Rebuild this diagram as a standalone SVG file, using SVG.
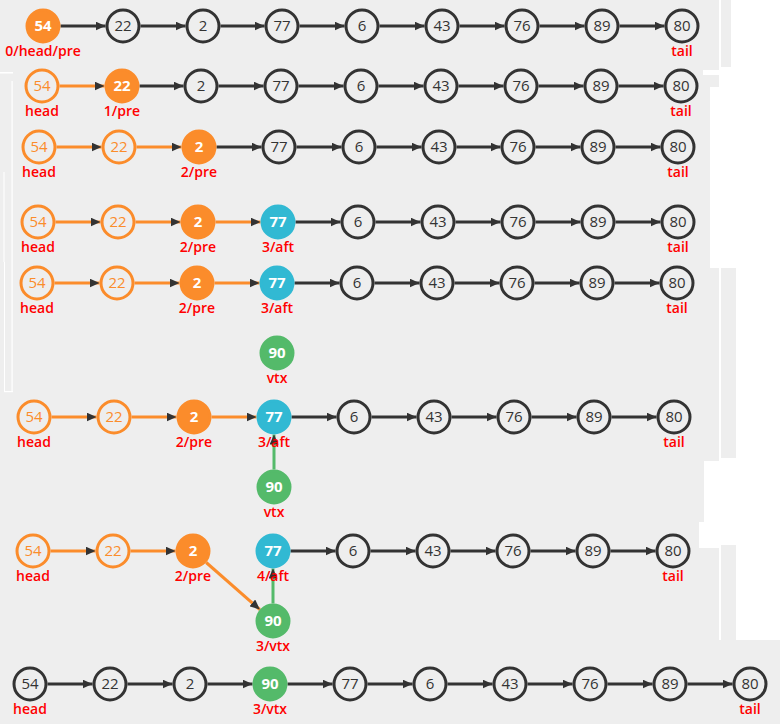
<svg xmlns="http://www.w3.org/2000/svg" width="780" height="724" viewBox="0 0 780 724">
<style>
text{font-family:"Open Sans","DejaVu Sans",sans-serif;text-anchor:middle}
.node circle{stroke-width:3}
.node text{font-size:15px;font-weight:700}
.n circle{fill:#eeeeee;stroke:#333333}
.n text{fill:#333333;font-weight:500}
.o circle{fill:#eeeeee;stroke:#fb8c2b}
.o text{fill:#fb8c2b;font-weight:500}
.f circle{fill:#fb8c2b;stroke:#fb8c2b}
.t circle{fill:#31b9d3;stroke:#31b9d3}
.g circle{fill:#54ba6a;stroke:#54ba6a}
.f text,.t text,.g text{fill:#ffffff}
.node text.lbl{font-size:14px;font-weight:600;fill:#ff0000}
.bg{fill:#eeeeee}
.wl{fill:#ffffff}
#links line{stroke-width:3;marker-end:url(#ah)}
.d{stroke:#333333}
.ol{stroke:#fb8c2b}
.gl{stroke:#54ba6a}
</style>
<defs>
<marker id="ah" markerUnits="userSpaceOnUse" markerWidth="10" markerHeight="9" refX="10" refY="4.5" orient="auto">
<path d="M0,0 L10,4.5 L0,9 z" fill="#333333"/>
</marker>
</defs>
<g id="background">
<rect x="0" y="0" width="780" height="724" fill="#ffffff"/>
<rect class="bg" x="0" y="0" width="719" height="75"/>
<rect class="bg" x="721" y="0" width="10" height="67"/>
<rect class="wl" x="703" y="70" width="18" height="5"/>
<rect class="bg" x="0" y="75" width="719" height="12"/>
<rect class="bg" x="0" y="87" width="710" height="181"/>
<rect class="bg" x="0" y="268" width="719" height="193"/>
<rect class="bg" x="721" y="268" width="15" height="190"/>
<rect class="bg" x="0" y="461" width="704" height="61"/>
<rect class="bg" x="0" y="522" width="699" height="26"/>
<rect class="bg" x="0" y="548" width="719" height="107"/>
<rect class="bg" x="721" y="545" width="15" height="95"/>
<rect class="bg" x="0" y="640" width="780" height="84"/>
<rect class="wl" x="0" y="72" width="13" height="1.5"/>
<rect class="wl" x="11.5" y="81" width="1.2" height="311"/>
<rect class="wl" x="3.5" y="172" width="1" height="90"/>
<rect class="wl" x="4" y="262" width="1" height="130"/>
<rect class="wl" x="4" y="391" width="9" height="1.2"/>
</g>
<g id="links">
<line class="d" x1="60.5" y1="26" x2="105.5" y2="26"/>
<line class="d" x1="140.5" y1="26" x2="185.5" y2="26"/>
<line class="d" x1="220.5" y1="26" x2="264.5" y2="26"/>
<line class="d" x1="299.5" y1="26" x2="344.5" y2="26"/>
<line class="d" x1="379.5" y1="26" x2="424.5" y2="26"/>
<line class="d" x1="459.5" y1="26" x2="504.5" y2="26"/>
<line class="d" x1="539.5" y1="26" x2="584.5" y2="26"/>
<line class="d" x1="619.5" y1="26" x2="664.5" y2="26"/>

<line class="ol" x1="59.5" y1="86" x2="104.5" y2="86"/>
<line class="d" x1="139.5" y1="86" x2="183.5" y2="86"/>
<line class="d" x1="218.5" y1="86" x2="263.5" y2="86"/>
<line class="d" x1="298.5" y1="86" x2="343.5" y2="86"/>
<line class="d" x1="378.5" y1="86" x2="423.5" y2="86"/>
<line class="d" x1="458.5" y1="86" x2="503.5" y2="86"/>
<line class="d" x1="538.5" y1="86" x2="583.5" y2="86"/>
<line class="d" x1="618.5" y1="86" x2="663.5" y2="86"/>

<line class="ol" x1="56.5" y1="147" x2="101.5" y2="147"/>
<line class="ol" x1="136.5" y1="147" x2="181.5" y2="147"/>
<line class="d" x1="216.5" y1="147" x2="261.5" y2="147"/>
<line class="d" x1="296.5" y1="147" x2="341.5" y2="147"/>
<line class="d" x1="376.5" y1="147" x2="421.5" y2="147"/>
<line class="d" x1="456.5" y1="147" x2="500.5" y2="147"/>
<line class="d" x1="535.5" y1="147" x2="580.5" y2="147"/>
<line class="d" x1="615.5" y1="147" x2="660.5" y2="147"/>

<line class="ol" x1="55.5" y1="222" x2="100.5" y2="222"/>
<line class="ol" x1="135.5" y1="222" x2="180.5" y2="222"/>
<line class="ol" x1="215.5" y1="222" x2="260.5" y2="222"/>
<line class="d" x1="295.5" y1="222" x2="340.5" y2="222"/>
<line class="d" x1="375.5" y1="222" x2="420.5" y2="222"/>
<line class="d" x1="455.5" y1="222" x2="500.5" y2="222"/>
<line class="d" x1="535.5" y1="222" x2="580.5" y2="222"/>
<line class="d" x1="615.5" y1="222" x2="660.5" y2="222"/>

<line class="ol" x1="54.5" y1="283" x2="99.5" y2="283"/>
<line class="ol" x1="134.5" y1="283" x2="179.5" y2="283"/>
<line class="ol" x1="214.5" y1="283" x2="259.5" y2="283"/>
<line class="d" x1="294.5" y1="283" x2="339.5" y2="283"/>
<line class="d" x1="374.5" y1="283" x2="419.5" y2="283"/>
<line class="d" x1="454.5" y1="283" x2="499.5" y2="283"/>
<line class="d" x1="534.5" y1="283" x2="579.5" y2="283"/>
<line class="d" x1="614.5" y1="283" x2="659.5" y2="283"/>

<line class="ol" x1="51.5" y1="417" x2="96.5" y2="417"/>
<line class="ol" x1="131.5" y1="417" x2="176.5" y2="417"/>
<line class="ol" x1="211.5" y1="417" x2="256.5" y2="417"/>
<line class="d" x1="291.5" y1="417" x2="336.5" y2="417"/>
<line class="d" x1="371.5" y1="417" x2="416.5" y2="417"/>
<line class="d" x1="451.5" y1="417" x2="496.5" y2="417"/>
<line class="d" x1="531.5" y1="417" x2="576.5" y2="417"/>
<line class="d" x1="611.5" y1="417" x2="656.5" y2="417"/>
<line class="gl" x1="274" y1="469.5" x2="274" y2="434.5"/>

<line class="ol" x1="50.5" y1="551" x2="95.5" y2="551"/>
<line class="ol" x1="130.5" y1="551" x2="175.5" y2="551"/>
<line class="ol" x1="206.2" y1="562.5" x2="259.8" y2="609.5"/>
<line class="d" x1="290.5" y1="551" x2="335.5" y2="551"/>
<line class="d" x1="370.5" y1="551" x2="415.5" y2="551"/>
<line class="d" x1="450.5" y1="551" x2="495.5" y2="551"/>
<line class="d" x1="530.5" y1="551" x2="575.5" y2="551"/>
<line class="d" x1="610.5" y1="551" x2="655.5" y2="551"/>
<line class="gl" x1="273" y1="603.5" x2="273" y2="568.5"/>

<line class="d" x1="47.5" y1="684" x2="92.5" y2="684"/>
<line class="d" x1="127.5" y1="684" x2="172.5" y2="684"/>
<line class="d" x1="207.5" y1="684" x2="252.5" y2="684"/>
<line class="d" x1="287.5" y1="684" x2="332.5" y2="684"/>
<line class="d" x1="367.5" y1="684" x2="412.5" y2="684"/>
<line class="d" x1="447.5" y1="684" x2="492.5" y2="684"/>
<line class="d" x1="527.5" y1="684" x2="572.5" y2="684"/>
<line class="d" x1="607.5" y1="684" x2="652.5" y2="684"/>
<line class="d" x1="687.5" y1="684" x2="732.5" y2="684"/>
</g>
<g id="nodes">
<!-- row 1 -->
<g id="r1n1" class="node f"><circle cx="43" cy="26" r="16"/><text x="43" y="31">54</text><text class="lbl" x="43" y="56">0/head/pre</text></g>
<g id="r1n2" class="node n"><circle cx="123" cy="26" r="16"/><text x="123" y="31">22</text></g>
<g id="r1n3" class="node n"><circle cx="203" cy="26" r="16"/><text x="203" y="31">2</text></g>
<g id="r1n4" class="node n"><circle cx="282" cy="26" r="16"/><text x="282" y="31">77</text></g>
<g id="r1n5" class="node n"><circle cx="362" cy="26" r="16"/><text x="362" y="31">6</text></g>
<g id="r1n6" class="node n"><circle cx="442" cy="26" r="16"/><text x="442" y="31">43</text></g>
<g id="r1n7" class="node n"><circle cx="522" cy="26" r="16"/><text x="522" y="31">76</text></g>
<g id="r1n8" class="node n"><circle cx="602" cy="26" r="16"/><text x="602" y="31">89</text></g>
<g id="r1n9" class="node n"><circle cx="682" cy="26" r="16"/><text x="682" y="31">80</text><text class="lbl" x="682" y="56">tail</text></g>
<!-- row 2 -->
<g id="r2n1" class="node o"><circle cx="42" cy="86" r="16"/><text x="42" y="91">54</text><text class="lbl" x="42" y="116">head</text></g>
<g id="r2n2" class="node f"><circle cx="122" cy="86" r="16"/><text x="122" y="91">22</text><text class="lbl" x="122" y="116">1/pre</text></g>
<g id="r2n3" class="node n"><circle cx="201" cy="86" r="16"/><text x="201" y="91">2</text></g>
<g id="r2n4" class="node n"><circle cx="281" cy="86" r="16"/><text x="281" y="91">77</text></g>
<g id="r2n5" class="node n"><circle cx="361" cy="86" r="16"/><text x="361" y="91">6</text></g>
<g id="r2n6" class="node n"><circle cx="441" cy="86" r="16"/><text x="441" y="91">43</text></g>
<g id="r2n7" class="node n"><circle cx="521" cy="86" r="16"/><text x="521" y="91">76</text></g>
<g id="r2n8" class="node n"><circle cx="601" cy="86" r="16"/><text x="601" y="91">89</text></g>
<g id="r2n9" class="node n"><circle cx="681" cy="86" r="16"/><text x="681" y="91">80</text><text class="lbl" x="681" y="116">tail</text></g>
<!-- row 3 -->
<g id="r3n1" class="node o"><circle cx="39" cy="147" r="16"/><text x="39" y="152">54</text><text class="lbl" x="39" y="177">head</text></g>
<g id="r3n2" class="node o"><circle cx="119" cy="147" r="16"/><text x="119" y="152">22</text></g>
<g id="r3n3" class="node f"><circle cx="199" cy="147" r="16"/><text x="199" y="152">2</text><text class="lbl" x="199" y="177">2/pre</text></g>
<g id="r3n4" class="node n"><circle cx="279" cy="147" r="16"/><text x="279" y="152">77</text></g>
<g id="r3n5" class="node n"><circle cx="359" cy="147" r="16"/><text x="359" y="152">6</text></g>
<g id="r3n6" class="node n"><circle cx="439" cy="147" r="16"/><text x="439" y="152">43</text></g>
<g id="r3n7" class="node n"><circle cx="518" cy="147" r="16"/><text x="518" y="152">76</text></g>
<g id="r3n8" class="node n"><circle cx="598" cy="147" r="16"/><text x="598" y="152">89</text></g>
<g id="r3n9" class="node n"><circle cx="678" cy="147" r="16"/><text x="678" y="152">80</text><text class="lbl" x="678" y="177">tail</text></g>
<!-- row 4 -->
<g id="r4n1" class="node o"><circle cx="38" cy="222" r="16"/><text x="38" y="227">54</text><text class="lbl" x="38" y="252">head</text></g>
<g id="r4n2" class="node o"><circle cx="118" cy="222" r="16"/><text x="118" y="227">22</text></g>
<g id="r4n3" class="node f"><circle cx="198" cy="222" r="16"/><text x="198" y="227">2</text><text class="lbl" x="198" y="252">2/pre</text></g>
<g id="r4n4" class="node t"><circle cx="278" cy="222" r="16"/><text x="278" y="227">77</text><text class="lbl" x="278" y="252">3/aft</text></g>
<g id="r4n5" class="node n"><circle cx="358" cy="222" r="16"/><text x="358" y="227">6</text></g>
<g id="r4n6" class="node n"><circle cx="438" cy="222" r="16"/><text x="438" y="227">43</text></g>
<g id="r4n7" class="node n"><circle cx="518" cy="222" r="16"/><text x="518" y="227">76</text></g>
<g id="r4n8" class="node n"><circle cx="598" cy="222" r="16"/><text x="598" y="227">89</text></g>
<g id="r4n9" class="node n"><circle cx="678" cy="222" r="16"/><text x="678" y="227">80</text><text class="lbl" x="678" y="252">tail</text></g>
<!-- row 5 -->
<g id="r5n1" class="node o"><circle cx="37" cy="283" r="16"/><text x="37" y="288">54</text><text class="lbl" x="37" y="313">head</text></g>
<g id="r5n2" class="node o"><circle cx="117" cy="283" r="16"/><text x="117" y="288">22</text></g>
<g id="r5n3" class="node f"><circle cx="197" cy="283" r="16"/><text x="197" y="288">2</text><text class="lbl" x="197" y="313">2/pre</text></g>
<g id="r5n4" class="node t"><circle cx="277" cy="283" r="16"/><text x="277" y="288">77</text><text class="lbl" x="277" y="313">3/aft</text></g>
<g id="r5n5" class="node n"><circle cx="357" cy="283" r="16"/><text x="357" y="288">6</text></g>
<g id="r5n6" class="node n"><circle cx="437" cy="283" r="16"/><text x="437" y="288">43</text></g>
<g id="r5n7" class="node n"><circle cx="517" cy="283" r="16"/><text x="517" y="288">76</text></g>
<g id="r5n8" class="node n"><circle cx="597" cy="283" r="16"/><text x="597" y="288">89</text></g>
<g id="r5n9" class="node n"><circle cx="677" cy="283" r="16"/><text x="677" y="288">80</text><text class="lbl" x="677" y="313">tail</text></g>
<!-- row 6 -->
<g id="r6vtx" class="node g"><circle cx="277" cy="353" r="16"/><text x="277" y="358">90</text><text class="lbl" x="277" y="383">vtx</text></g>
<!-- row 7 -->
<g id="r7n1" class="node o"><circle cx="34" cy="417" r="16"/><text x="34" y="422">54</text><text class="lbl" x="34" y="447">head</text></g>
<g id="r7n2" class="node o"><circle cx="114" cy="417" r="16"/><text x="114" y="422">22</text></g>
<g id="r7n3" class="node f"><circle cx="194" cy="417" r="16"/><text x="194" y="422">2</text><text class="lbl" x="194" y="447">2/pre</text></g>
<g id="r7n4" class="node t"><circle cx="274" cy="417" r="16"/><text x="274" y="422">77</text><text class="lbl" x="274" y="447">3/aft</text></g>
<g id="r7n5" class="node n"><circle cx="354" cy="417" r="16"/><text x="354" y="422">6</text></g>
<g id="r7n6" class="node n"><circle cx="434" cy="417" r="16"/><text x="434" y="422">43</text></g>
<g id="r7n7" class="node n"><circle cx="514" cy="417" r="16"/><text x="514" y="422">76</text></g>
<g id="r7n8" class="node n"><circle cx="594" cy="417" r="16"/><text x="594" y="422">89</text></g>
<g id="r7n9" class="node n"><circle cx="674" cy="417" r="16"/><text x="674" y="422">80</text><text class="lbl" x="674" y="447">tail</text></g>
<g id="r7vtx" class="node g"><circle cx="274" cy="487" r="16"/><text x="274" y="492">90</text><text class="lbl" x="274" y="517">vtx</text></g>
<!-- row 8 -->
<g id="r8n1" class="node o"><circle cx="33" cy="551" r="16"/><text x="33" y="556">54</text><text class="lbl" x="33" y="581">head</text></g>
<g id="r8n2" class="node o"><circle cx="113" cy="551" r="16"/><text x="113" y="556">22</text></g>
<g id="r8n3" class="node f"><circle cx="193" cy="551" r="16"/><text x="193" y="556">2</text><text class="lbl" x="193" y="581">2/pre</text></g>
<g id="r8n4" class="node t"><circle cx="273" cy="551" r="16"/><text x="273" y="556">77</text><text class="lbl" x="273" y="581">4/aft</text></g>
<g id="r8n5" class="node n"><circle cx="353" cy="551" r="16"/><text x="353" y="556">6</text></g>
<g id="r8n6" class="node n"><circle cx="433" cy="551" r="16"/><text x="433" y="556">43</text></g>
<g id="r8n7" class="node n"><circle cx="513" cy="551" r="16"/><text x="513" y="556">76</text></g>
<g id="r8n8" class="node n"><circle cx="593" cy="551" r="16"/><text x="593" y="556">89</text></g>
<g id="r8n9" class="node n"><circle cx="673" cy="551" r="16"/><text x="673" y="556">80</text><text class="lbl" x="673" y="581">tail</text></g>
<g id="r8vtx" class="node g"><circle cx="273" cy="621" r="16"/><text x="273" y="626">90</text><text class="lbl" x="273" y="651">3/vtx</text></g>
<!-- row 9 -->
<g id="r9n1" class="node n"><circle cx="30" cy="684" r="16"/><text x="30" y="689">54</text><text class="lbl" x="30" y="714">head</text></g>
<g id="r9n2" class="node n"><circle cx="110" cy="684" r="16"/><text x="110" y="689">22</text></g>
<g id="r9n3" class="node n"><circle cx="190" cy="684" r="16"/><text x="190" y="689">2</text></g>
<g id="r9n4" class="node g"><circle cx="270" cy="684" r="16"/><text x="270" y="689">90</text><text class="lbl" x="270" y="714">3/vtx</text></g>
<g id="r9n5" class="node n"><circle cx="350" cy="684" r="16"/><text x="350" y="689">77</text></g>
<g id="r9n6" class="node n"><circle cx="430" cy="684" r="16"/><text x="430" y="689">6</text></g>
<g id="r9n7" class="node n"><circle cx="510" cy="684" r="16"/><text x="510" y="689">43</text></g>
<g id="r9n8" class="node n"><circle cx="590" cy="684" r="16"/><text x="590" y="689">76</text></g>
<g id="r9n9" class="node n"><circle cx="670" cy="684" r="16"/><text x="670" y="689">89</text></g>
<g id="r9n10" class="node n"><circle cx="750" cy="684" r="16"/><text x="750" y="689">80</text><text class="lbl" x="750" y="714">tail</text></g>
</g>
</svg>
